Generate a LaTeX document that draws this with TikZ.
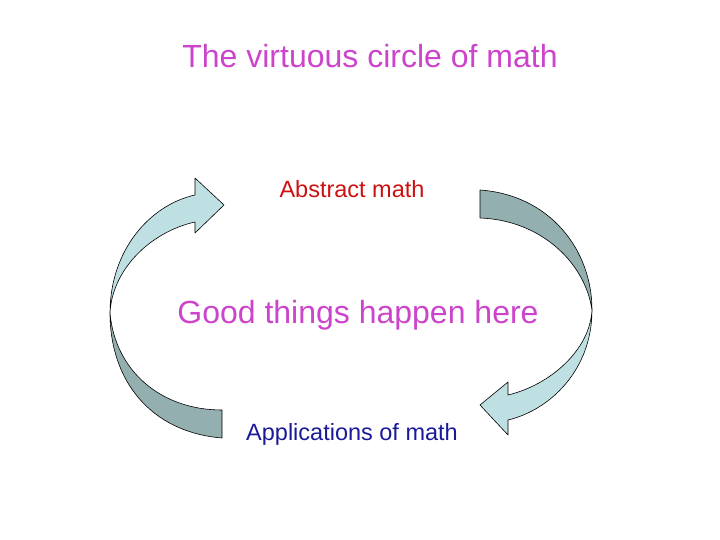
\documentclass[tikz,border=0pt]{standalone}
\usepackage{fontspec}
\setmainfont{Liberation Sans}
\definecolor{lightarc}{HTML}{BFE0E3}
\definecolor{darkarc}{HTML}{94AFB0}
\definecolor{titlepink}{HTML}{CC44CC}
\definecolor{abstractred}{HTML}{CC1111}
\definecolor{appsblue}{HTML}{1A1A99}
\begin{document}
\begin{tikzpicture}[x=1pt,y=-1pt,
    arcpart/.style={draw=black, line width=0.6pt, line join=round},
    label/.style={inner sep=0pt, anchor=center}]
    \useasboundingbox (0,0) rectangle (720,540);

    %% texts
    \node[label, text=titlepink, font=\fontsize{32}{36}\selectfont](title) at (370,56){The virtuous circle of math};
    \node[label, text=abstractred, font=\fontsize{23.5}{27}\selectfont](abstract) at (352,189){Abstract math};
    \node[label, text=titlepink, font=\fontsize{32}{36}\selectfont](good) at (358,315){Good things happen here};
    \node[label, text=appsblue, font=\fontsize{23.5}{27}\selectfont](apps) at (352,434){Applications of math};

    %% left arrow
    \filldraw[arcpart, fill=darkarc] (222,438) .. controls (150,432) and (110,380) .. (110,313)
        .. controls (115,370) and (160,410) .. (222,410) -- cycle;
    \filldraw[arcpart, fill=lightarc] (110,313) .. controls (110,250) and (150,205) .. (195,195)
        -- (195,178) -- (224,205) -- (195,233) -- (195,222)
        .. controls (150,232) and (112,270) .. (110,313) -- cycle;

    %% right arrow
    \filldraw[arcpart, fill=darkarc] (480,190) .. controls (550,195) and (592,250) .. (592,310)
        .. controls (585,262) and (540,220) .. (480,218) -- cycle;
    \filldraw[arcpart, fill=lightarc] (592,310) .. controls (592,370) and (550,410) .. (508,420)
        -- (508,435) -- (480,405) -- (508,382) -- (508,395)
        .. controls (550,385) and (590,350) .. (592,310) -- cycle;
\end{tikzpicture}
\end{document}
